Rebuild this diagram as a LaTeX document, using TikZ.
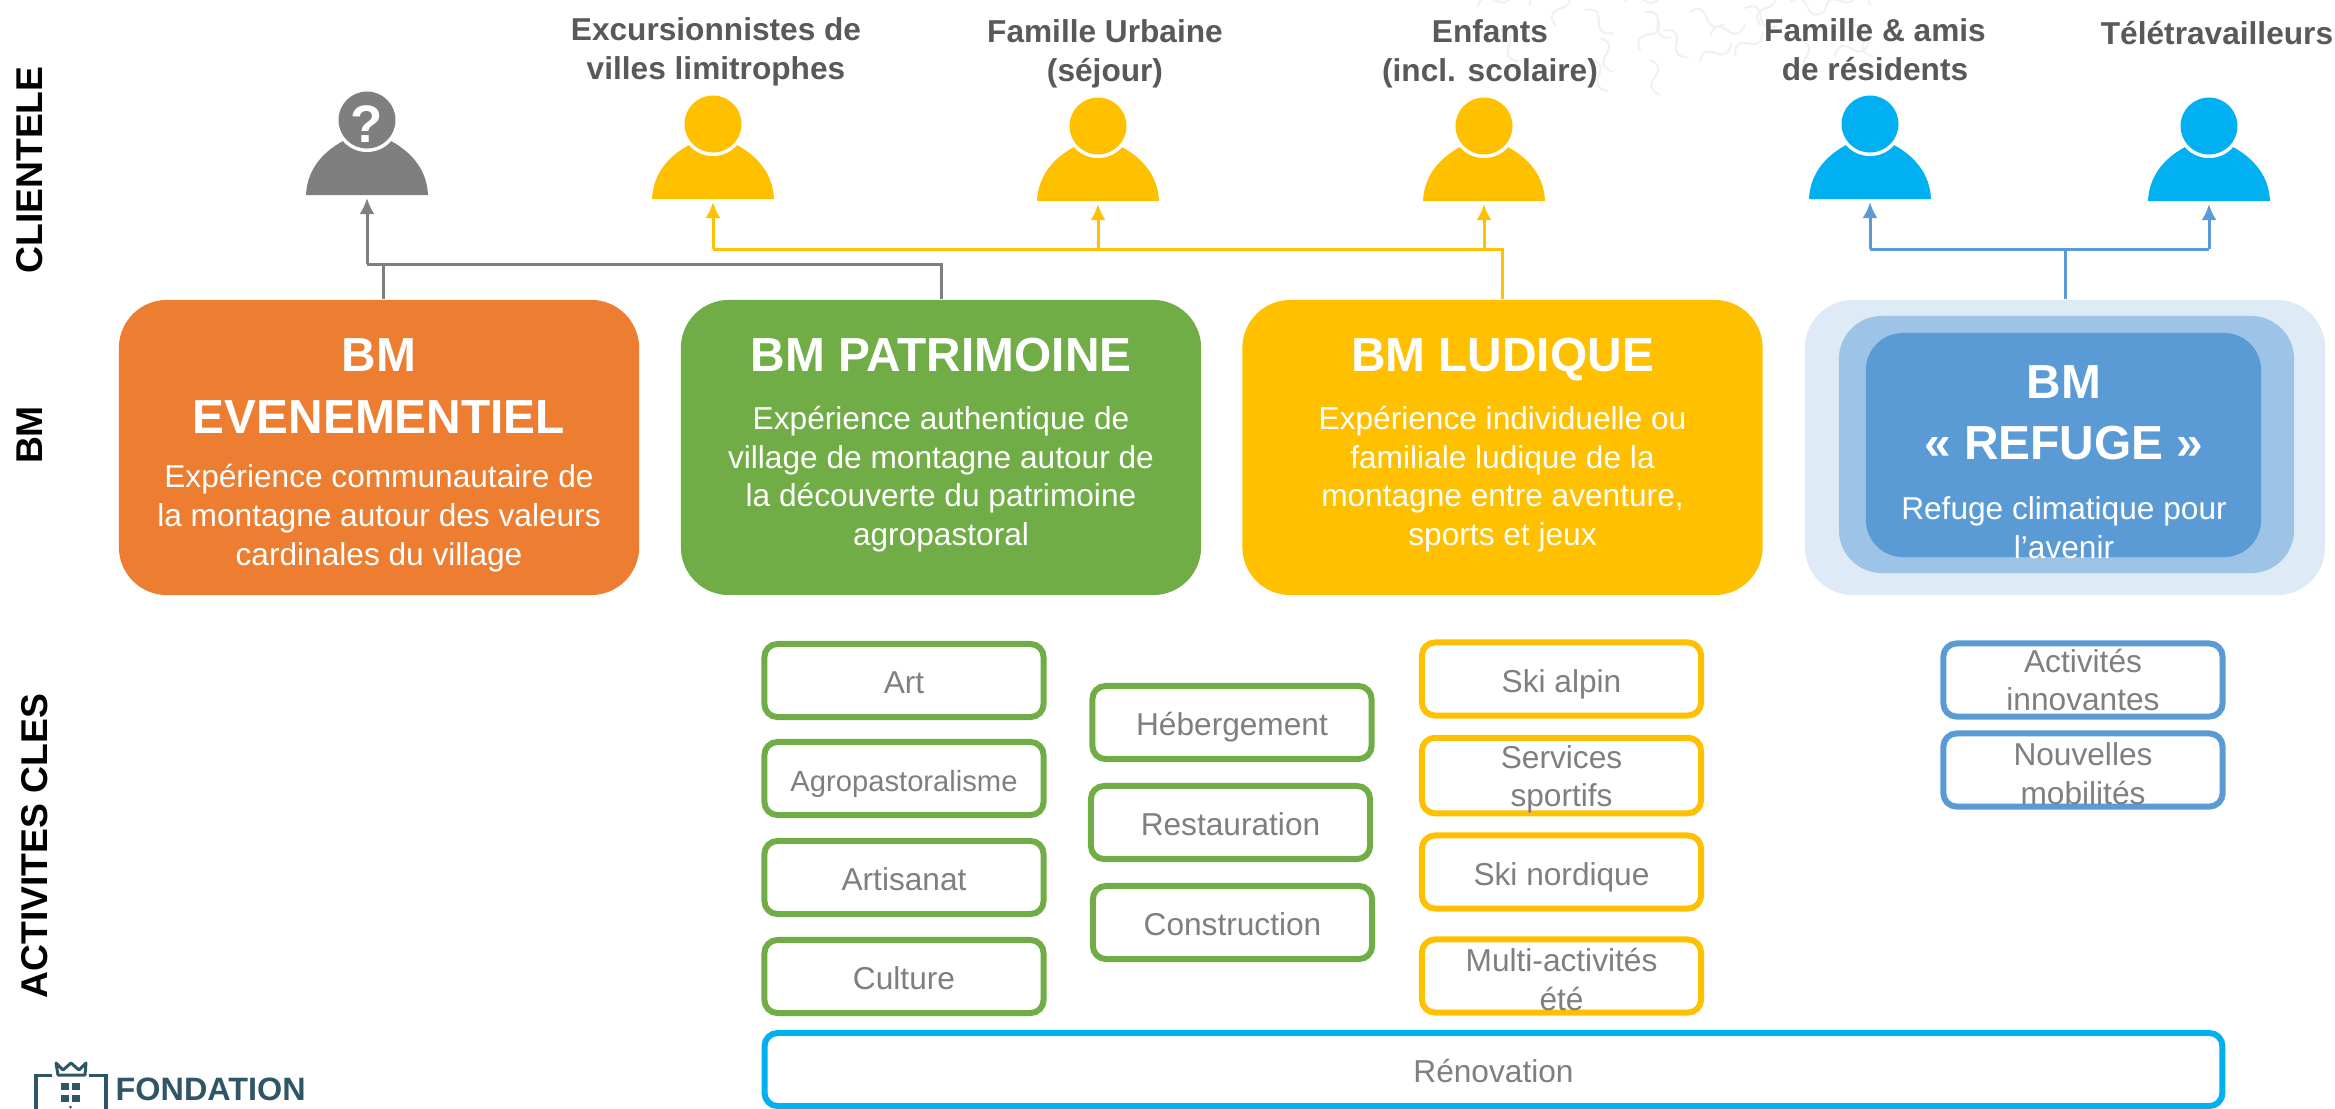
\documentclass[tikz,border=0pt]{standalone}
\usepackage{fontspec}
\setmainfont{Liberation Sans}
\usetikzlibrary{arrows.meta}
\definecolor{bmorange}{HTML}{ED7D31}
\definecolor{bmgreen}{HTML}{70AD47}
\definecolor{bmyellow}{HTML}{FFC000}
\definecolor{bmblue}{HTML}{5B9BD5}
\definecolor{bmcyan}{HTML}{00B0F0}
\definecolor{bmgray}{HTML}{7F7F7F}
\definecolor{titlegray}{HTML}{595959}
\definecolor{logoteal}{HTML}{2F5666}
\newcommand{\lowpad}{\rule{0pt}{8.6pt}}
\tikzset{
  sidelabel/.style={rotate=90,font=\fontsize{10.6}{12}\selectfont\bfseries,text=black,inner sep=0},
  clientlabel/.style={align=center,font=\fontsize{9}{11.1}\selectfont\bfseries,text=titlegray,inner sep=0},
  bmbox/.style={rounded corners=0.48cm,minimum width=5.2cm,minimum height=2.95cm,inner sep=0},
  bmtitle/.style={align=center,font=\fontsize{13.6}{17.4}\selectfont\bfseries,text=white,inner sep=0},
  bmtext/.style={align=center,font=\fontsize{9}{11}\selectfont,text=white,inner sep=0},
  actbox/.style={draw,line width=0.06cm,rounded corners=0.13cm,fill=white,minimum width=2.79cm,minimum height=0.73cm,
    inner sep=0,align=center,text=bmgray,font=\fontsize{9}{11}\selectfont},
  oneline/.style={text height=7.4pt,text depth=0pt},
  tiparrow/.style={-{Latex[length=0.16cm,width=0.15cm]},line width=0.03cm},
  joinline/.style={line width=0.03cm},
  squiggle/.style={draw=logoteal!8,line width=0.02cm,line cap=round},
}
\begin{document}
\begin{tikzpicture}[x=0.01cm,y=-0.01cm]
\useasboundingbox (0,0) rectangle (2335,1108);
\clip (0,0) rectangle (2335,1108);

% faint background pattern
\foreach \x/\y/\a in {1478/6/20,1500/30/-60,1530/5/40,1555/25/70,1585/10/-40,1600/38/-70,1625/2/10,
  1640/50/60,1665/30/-50,1690/12/-20,1645/12/-45,1710/35/15,1735/55/40,1650/60/-75,1760/25/70,
  1790/2/-15,1800/40/-70,1825/10/30,1835/55/20,1855/25/-60,1700/62/30,1590/60/-60,1745/8/-30,1870/5/60}
  \draw[squiggle,shift={(\x,\y)},rotate=\a] (0,0) .. controls (7,-9) and (12,-7) .. (18,0) .. controls (23,7) and (29,8) .. (36,0);

% persons
\foreach \name/\x/\y/\col in {pgray/367/195/bmgray,pexc/713/199/bmyellow,pfam/1098/201/bmyellow,
  penf/1484/201/bmyellow,pami/1870/199/bmcyan,ptel/2209/201/bmcyan} {
  \coordinate (\name) at (\x,\y+3);
  \begin{scope}[shift={(\x,\y)}]
  \fill[\col] (-61,0) .. controls (-60,-24) and (-46,-42) .. (-24,-54) -- (24,-54) .. controls (46,-42) and (60,-24) .. (61,0) -- cycle;
  \fill[white] (0,-75) circle (32);
  \fill[\col] (0,-75) circle (28.5);
  \end{scope}
}
\node[font=\fontsize{15}{15}\selectfont\bfseries,text=white,inner sep=0] (qmark) at (367,124) {?};

% clientele labels
\node[clientlabel] (lexc) at (716,52) {Excursionnistes de\\villes limitrophes};
\node[clientlabel] (lfam) at (1105,54) {Famille Urbaine\\(séjour)};
\node[clientlabel] (lenf) at (1490,54) {Enfants\\(incl. scolaire)};
\node[clientlabel] (lami) at (1875,50) {Famille \& amis\\de résidents};
\node[clientlabel] (ltel) at (2217,33) {Télétravailleurs};

% side labels
\node[sidelabel] (sclient) at (30,170) {CLIENTELE};
\node[sidelabel] (sbm) at (30,435) {BM};
\node[sidelabel] (sact) at (35,846) {ACTIVITES CLES};

% BM boxes
\node[bmbox,fill=bmorange] (bmevent) at (379,447.5) {};
\node[bmbox,fill=bmgreen] (bmpat) at (941,447.5) {};
\node[bmbox,fill=bmyellow] (bmlud) at (1502.5,447.5) {};
\node[bmbox,fill=bmblue!20!white] (bmref) at (2065,447.5) {};
\node[rounded corners=0.43cm,minimum width=4.55cm,minimum height=2.57cm,inner sep=0,fill=bmblue!60!white] (bmrefmid) at (2066.5,444.5) {};
\node[rounded corners=0.37cm,minimum width=3.95cm,minimum height=2.24cm,inner sep=0,fill=bmblue] (bmrefin) at (2063.5,445) {};

\node[bmtitle] (tevent) at (379,386) {BM\\EVENEMENTIEL};
\node[bmtext] (xevent) at (379,518) {Expérience communautaire de\\la montagne autour des valeurs\\cardinales du village};
\node[bmtitle] (tpat) at (941,355) {BM PATRIMOINE};
\node[bmtext] (xpat) at (941,479) {Expérience authentique de\\village de montagne autour de\\la découverte du patrimoine\\agropastoral};
\node[bmtitle] (tlud) at (1502.5,359) {BM LUDIQUE};
\node[bmtext] (xlud) at (1502.5,479) {Expérience individuelle ou\\familiale ludique de la\\montagne entre aventure,\\sports et jeux};
\node[bmtitle] (tref) at (2064,413) {BM\\« REFUGE »};
\node[bmtext] (xref) at (2064,528) {Refuge climatique pour\\l’avenir};

% connectors
\coordinate (joingray) at (367,264);
\coordinate (joinyel) at (713,249);
\coordinate (joinblue) at (1870,249);
\coordinate (joinbluer) at (2209,249);
\draw[joinline,bmgray] ([xshift=0.04cm]bmevent.north) |- (joingray);
\draw[joinline,bmgray] (bmpat.north) |- (joingray);
\draw[tiparrow,bmgray] (joingray) -- (pgray);
\draw[joinline,bmyellow] (bmlud.north) |- (joinyel);
\draw[tiparrow,bmyellow] (joinyel) -- (pexc);
\draw[tiparrow,bmyellow] (joinyel -| pfam) -- (pfam);
\draw[tiparrow,bmyellow] (joinyel -| penf) -- (penf);
\draw[joinline,bmblue] (bmref.north) |- (joinblue);
\draw[joinline,bmblue] (bmref.north) |- (joinbluer);
\draw[tiparrow,bmblue] (joinblue) -- (pami);
\draw[tiparrow,bmblue] (joinbluer) -- (ptel);

% activities
\node[actbox,oneline,draw=bmgreen] (aart) at (904,680.5) {Art};
\node[actbox,oneline,draw=bmgreen,font=\fontsize{8.3}{10}\selectfont] (aagro) at (904,778.5) {Agropastoralisme};
\node[actbox,oneline,draw=bmgreen] (aartis) at (904,877.5) {Artisanat};
\node[actbox,oneline,draw=bmgreen] (acult) at (904,976.5) {Culture};
\node[actbox,oneline,draw=bmgreen] (aheb) at (1232,722.5) {Hébergement};
\node[actbox,oneline,draw=bmgreen] (arest) at (1230.5,822.5) {Restauration};
\node[actbox,oneline,draw=bmgreen] (acons) at (1232.5,922.5) {Construction};
\node[actbox,oneline,draw=bmyellow] (aski) at (1561.5,679) {Ski alpin};
\node[actbox,draw=bmyellow] (aserv) at (1561.5,775.5) {\lowpad Services\\sportifs};
\node[actbox,oneline,draw=bmyellow] (anord) at (1561.5,872) {Ski nordique};
\node[actbox,draw=bmyellow] (amulti) at (1561.5,976) {\lowpad Multi-activités\\été};
\node[actbox,draw=bmblue] (ainno) at (2083,680) {Activités\\innovantes};
\node[actbox,draw=bmblue] (amob) at (2083,770) {\lowpad Nouvelles\\mobilités};
\node[actbox,oneline,draw=bmcyan,minimum width=14.57cm] (areno) at (1493.5,1069.5) {Rénovation};

% logo
\node[anchor=west,inner sep=0,text=logoteal,font=\fontsize{9.2}{10}\selectfont\bfseries] (logotext) at (115,1089) {FONDATION};
\draw[logoteal,line width=0.03cm] (52,1075) -- (36,1075) -- (36,1110);
\draw[logoteal,line width=0.03cm] (89,1075) -- (106,1075) -- (106,1110);
\draw[logoteal,line width=0.03cm,line join=round] (56,1063) -- (58,1075) -- (85,1075) -- (86,1063) -- (79,1070) -- (71,1063) -- (63,1070) -- cycle;
\foreach \x/\y in {61/1083,72/1083,61/1095,72/1095}
  \fill[logoteal] (\x,\y) rectangle (\x+8,\y+7);
\fill[logoteal] (70.5,1107) circle (1.5);
\end{tikzpicture}
\end{document}
